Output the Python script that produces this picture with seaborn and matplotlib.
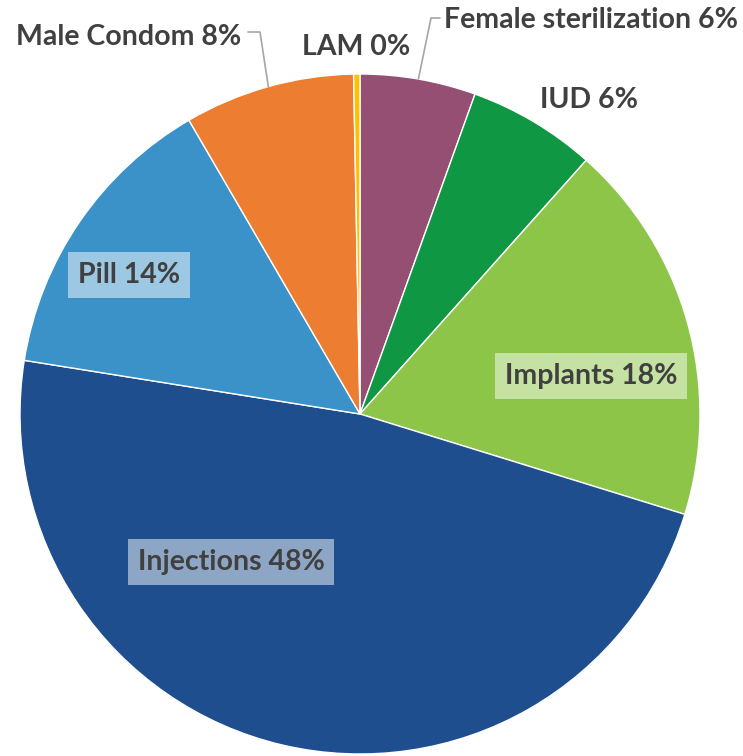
import numpy as np
import matplotlib
matplotlib.use("Agg")
import matplotlib.pyplot as plt
import seaborn as sns

# slices, clockwise from 12 o'clock (Excel order)
methods = ["Female sterilization", "IUD", "Implants", "Injections", "Pill", "Male Condom", "LAM"]
shares = [5.5, 6.1, 18.2, 47.8, 14.1, 8.1, 0.3]
pct_labels = ["6%", "6%", "18%", "48%", "14%", "8%", "0%"]
colors = ["#954F72", "#0F9743", "#8DC548", "#1E4E8E", "#3A92C8", "#ED7D31", "#FFC000"]

# label layout (pixel coords, y down)
label_pos = {
    "Female sterilization": (591, 20),
    "IUD": (589, 100),
    "Implants": (591, 376),
    "Injections": (231, 562),
    "Pill": (129, 275),
    "Male Condom": (129, 37),
    "LAM": (356, 47),
}
boxed = ["Implants", "Injections", "Pill"]
# leader line elbows: (elbow, end)
leaders = {
    "Female sterilization": [(431, 18), (440, 18)],
    "Male Condom": [(260, 32), (248, 32)],
}

sns.set_theme(style="white")
plt.rcParams['font.family'] = ['Lato', 'DejaVu Sans']

W, H = 743, 756
fig = plt.figure(figsize=(W / 100, H / 100), dpi=100)
ax = fig.add_axes([0, 0, 1, 1])

cx, cy, r = 360, 414, 340
# y axis is inverted below, so startangle=-90 points up and counterclock draws clockwise
wedges, _ = ax.pie(shares, colors=colors, startangle=-90, counterclock=True,
                   center=(cx, cy), radius=r, frame=True,
                   wedgeprops=dict(edgecolor="white", linewidth=1.0))
ax.set_xlim(0, W)
ax.set_ylim(H, 0)
ax.set_aspect("equal")
ax.axis("off")

for w, name, pct in zip(wedges, methods, pct_labels):
    x, y = label_pos[name]
    kw = {}
    if name in boxed:
        kw["bbox"] = dict(boxstyle="square,pad=0.35", fc="white", ec="none", alpha=0.5)
    ax.text(x, y, f"{name} {pct}", ha="center", va="center", fontsize=20.5,
            fontweight="bold", color="#404040", **kw)
    if name in leaders:
        mid = np.deg2rad((w.theta1 + w.theta2) / 2)
        ex, ey = cx + r * np.cos(mid), cy + r * np.sin(mid)
        pts = [(ex, ey)] + leaders[name]
        ax.plot([p[0] for p in pts], [p[1] for p in pts], color="#A6A6A6", lw=1.2)

fig.savefig("out.png", dpi=100, facecolor="white")
